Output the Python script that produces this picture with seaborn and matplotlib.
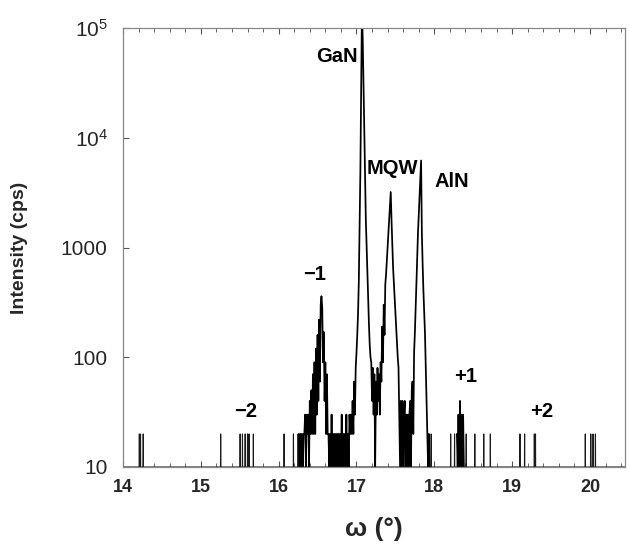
import numpy as np
import pandas as pd
import matplotlib
matplotlib.use("Agg")
import matplotlib.pyplot as plt
import seaborn as sns
from matplotlib.ticker import FixedLocator, FixedFormatter, MultipleLocator, NullLocator

# ---------------- data ----------------
# sparse background spikes (cps) outside the main scan region
bg_spike_omega = [14.21, 14.225, 14.26, 15.255, 15.505, 15.535, 15.57, 15.60, 15.62, 15.675,
                  16.07, 16.19, 16.25,
                  17.96, 18.21, 18.26, 18.41, 18.52, 18.635, 18.72, 19.10, 19.16, 19.285, 19.30,
                  19.94, 20.01, 20.04, 20.07]
bg_spike_cps = [20, 20, 20, 20, 20, 20, 20, 20, 20, 20,
                20, 20, 20,
                20, 20, 20, 20, 20, 20, 20, 20, 20, 20, 20,
                20, 20, 20, 20]
baseline_cps = 10

# main scan, 16.26 .. 17.94 deg, 0.01 deg step
scan1_start = 16.26
scan1_step = 0.01
scan1_cps = [
    # 16.26 - 16.64  (-1 satellite)
    20, 10, 20, 10, 20, 10, 20, 20, 30, 10,
    30, 20, 30, 10, 40, 20, 50, 20, 70, 20,
    90, 20, 120, 30, 160, 40, 220, 60, 300, 360,
    280, 90, 170, 40, 90, 20, 70, 20, 20,
    # 16.65 - 16.92
    10, 20, 10, 30, 10, 20, 10, 20, 10, 20, 10, 20, 20, 10, 20, 10, 30, 10, 20, 10,
    20, 10, 30, 10, 20, 10, 30, 20,
    # 16.93 - 17.18  (GaN)
    30, 20, 40, 20, 60, 30, 80, 110, 160, 250, 500, 1500, 5000, 30000, 150000, 80000,
    30000, 10000, 4000, 1800, 1000, 600, 350, 200, 130, 100,
    # 17.19 - 17.32
    90, 40, 80, 30, 70, 10, 60, 30, 80, 40, 70, 30, 90, 60,
    # 17.33 - 17.53  (MQW)
    190, 90, 300, 160, 460, 570, 750, 1000, 1350, 1800, 2400, 3200, 1800, 1100, 660,
    480, 350, 250, 180, 130, 100,
    # 17.54 - 17.71
    80, 30, 10, 40, 10, 40, 10, 30, 40, 10, 30, 10, 30, 10, 30, 40, 10, 50,
    # 17.72 - 17.83  (AlN rise)
    60, 20, 110, 165, 280, 480, 800, 1350, 2000, 3000, 4500, 6200,
    # 17.84 - 17.94
    1350, 700, 400, 250, 165, 80, 40, 20, 10, 20, 10,
]

# +1 satellite scan, 18.29 .. 18.38 deg
scan2_start = 18.29
scan2_step = 0.01
scan2_cps = [20, 10, 30, 10, 40, 10, 30, 10, 30, 10]

# annotations
peak_labels = ["GaN", "MQW", "AlN", "\u22121", "+1", "\u22122", "+2"]
label_omega = [16.75, 17.46, 18.23, 16.46, 18.40, 15.58, 19.385]
label_cps = [55000, 5300, 4000, 570, 67, 32, 32]

x_ticks = [14, 15, 16, 17, 18, 19, 20]
y_ticks = [10, 100, 1000, 1e4, 1e5]
y_ticklabels = ["10", "100", "1000", "$10^4$", "$10^5$"]

# ---------------- assemble traces ----------------
bg_rows = [(14.0, baseline_cps)]
for w, c in zip(bg_spike_omega, bg_spike_cps):
    bg_rows += [(w - 0.002, baseline_cps), (w, c), (w + 0.002, baseline_cps)]
bg_rows.append((20.45, baseline_cps))
df_bg = pd.DataFrame(bg_rows, columns=["omega", "cps"])

scan_rows = []
for i, c in enumerate(scan1_cps):
    scan_rows.append((round(scan1_start + i * scan1_step, 3), c, "a"))
for i, c in enumerate(scan2_cps):
    scan_rows.append((round(scan2_start + i * scan2_step, 3), c, "b"))
df_scan = pd.DataFrame(scan_rows, columns=["omega", "cps", "part"])

# ---------------- style ----------------
sns.set_theme(style="ticks")
plt.rcParams["font.family"] = ["Liberation Sans", "DejaVu Sans"]
plt.rcParams["mathtext.fontset"] = "custom"
plt.rcParams["mathtext.rm"] = "Liberation Sans"
plt.rcParams["mathtext.default"] = "regular"

fig = plt.figure(figsize=(6.29, 5.45), dpi=100)
ax = fig.add_axes([123 / 629, 1 - 467 / 545, (625 - 123) / 629, (467 - 28) / 545])

sns.lineplot(data=df_bg, x="omega", y="cps", ax=ax, color="#1a1a1a", linewidth=0.8,
             estimator=None, sort=False)
sns.lineplot(data=df_scan, x="omega", y="cps", units="part", ax=ax, color="black",
             linewidth=1.25, estimator=None, sort=False)

ax.set_yscale("log")
ax.set_xlim(14.0, 20.45)
ax.set_ylim(10, 1e5)

ax.xaxis.set_major_locator(FixedLocator(x_ticks))
ax.xaxis.set_minor_locator(MultipleLocator(0.2))
ax.yaxis.set_major_locator(FixedLocator(y_ticks))
ax.yaxis.set_major_formatter(FixedFormatter(y_ticklabels))
ax.yaxis.set_minor_locator(NullLocator())

ax.tick_params(axis="x", which="major", direction="in", length=4, width=0.8,
               color="#555555", top=True, bottom=True, pad=9, labelsize=13)
ax.tick_params(axis="x", which="minor", direction="in", length=3, width=0.7,
               color="#666666", top=True, bottom=True)
ax.tick_params(axis="y", which="major", direction="in", length=4, width=0.8,
               color="#555555", left=True, right=False, pad=11, labelsize=15)
for lab in ax.get_xticklabels():
    lab.set_fontweight("bold")

for s in ax.spines.values():
    s.set_color("#888888")
    s.set_linewidth(0.9)

ax.set_xlabel("\u03c9 (\u00b0)", fontsize=19, fontweight="bold")
ax.set_ylabel("Intensity (cps)", fontsize=14, fontweight="bold")
ax.xaxis.set_label_coords(0.5, -0.115)
ax.yaxis.set_label_coords(-0.19, 0.5)

for t, w, c in zip(peak_labels, label_omega, label_cps):
    ax.text(w, c, t, ha="center", va="center", fontsize=14.5, fontweight="bold", color="black")

fig.savefig("out.png", dpi=100)
